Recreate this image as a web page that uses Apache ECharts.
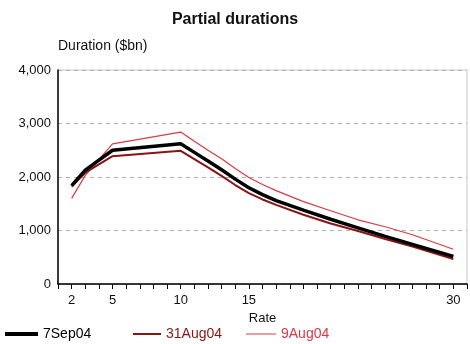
<!DOCTYPE html>
<html>
<head>
<meta charset="utf-8">
<script src="https://cdn.jsdelivr.net/npm/echarts@6/dist/echarts.min.js"></script>
<style>
html,body{margin:0;padding:0;background:#fff;}
#chart{width:470px;height:344px;}
</style>
</head>
<body>
<div id="chart"></div>
<script>
var rates = [2, 3, 5, 10, 11, 12, 13, 14, 15, 16, 17, 19, 21, 23, 25, 27, 30];
var sep7 = [1840, 2130, 2500, 2620, 2460, 2300, 2135, 1960, 1800, 1670, 1560, 1380, 1210, 1050, 890, 740, 515];
var aug31 = [1820, 2080, 2390, 2490, 2335, 2180, 2020, 1850, 1700, 1580, 1480, 1295, 1130, 990, 840, 700, 465];
var aug9 = [1600, 2030, 2620, 2840, 2670, 2500, 2340, 2160, 1990, 1860, 1745, 1540, 1370, 1200, 1070, 920, 650];
var xLabels = [2, 5, 10, 15, 30];
var yTicks = [0, 1000, 2000, 3000, 4000];

function pairs(xs, ys) { return xs.map(function (x, i) { return [x, ys[i]]; }); }
var font = 'Liberation Sans, Arial, sans-serif';
var cBlack = '#000000', cDark = '#8a1414', cLight = '#d83a44';

var chart = echarts.init(document.getElementById('chart'));
chart.setOption({
  animation: false,
  backgroundColor: '#fff',
  title: {
    text: 'Partial durations', left: 'center', top: 7,
    textStyle: { fontFamily: font, fontSize: 16, fontWeight: 'bold', color: '#111' }
  },
  grid: { left: 58, right: 3, top: 70, bottom: 60, show: true, borderColor: '#c8c8c8', borderWidth: 1 },
  xAxis: {
    type: 'value', min: 1, max: 31, interval: 1,
    name: 'Rate', nameLocation: 'middle', nameGap: 26,
    nameTextStyle: { fontFamily: font, fontSize: 13, color: '#111' },
    axisLine: { lineStyle: { color: '#000', width: 1.5 } },
    axisTick: { show: true, length: 5, lineStyle: { color: '#000' } },
    axisLabel: {
      fontFamily: font, fontSize: 13, color: '#111', margin: 10,
      formatter: function (v) { return xLabels.indexOf(v) >= 0 ? String(v) : ''; }
    },
    splitLine: { show: false }
  },
  yAxis: {
    type: 'value', min: yTicks[0], max: yTicks[yTicks.length - 1], interval: 1000,
    name: 'Duration ($bn)', nameLocation: 'end', nameGap: 17,
    nameTextStyle: { fontFamily: font, fontSize: 14, color: '#111', align: 'left' },
    axisLine: { show: true, lineStyle: { color: '#000', width: 1.5 } },
    axisTick: { show: false },
    axisLabel: {
      fontFamily: font, fontSize: 13, color: '#111', margin: 7,
      formatter: function (v) { return v.toLocaleString('en-US'); }
    },
    splitLine: { show: true, lineStyle: { color: '#b0b0b0', type: [4, 4], width: 1 } }
  },
  legend: [
    { data: [{ name: '7Sep04', icon: 'rect', textStyle: { color: '#000' } }], left: 5, bottom: 3, padding: 0,
      itemWidth: 33, itemHeight: 4, textStyle: { fontFamily: font, fontSize: 14 } },
    { data: [{ name: '31Aug04', icon: 'rect', textStyle: { color: cDark } }], left: 133, bottom: 3, padding: 0,
      itemWidth: 28, itemHeight: 2, textStyle: { fontFamily: font, fontSize: 14 } },
    { data: [{ name: '9Aug04', icon: 'rect', textStyle: { color: cLight } }], left: 246, bottom: 3, padding: 0,
      itemWidth: 30, itemHeight: 1, textStyle: { fontFamily: font, fontSize: 14 } }
  ],
  series: [
    { name: '9Aug04', type: 'line', data: pairs(rates, aug9), symbol: 'none', z: 2,
      lineStyle: { color: cLight, width: 1.2 }, itemStyle: { color: cLight } },
    { name: '31Aug04', type: 'line', data: pairs(rates, aug31), symbol: 'none', z: 3,
      lineStyle: { color: cDark, width: 2 }, itemStyle: { color: cDark } },
    { name: '7Sep04', type: 'line', data: pairs(rates, sep7), symbol: 'none', z: 4,
      lineStyle: { color: cBlack, width: 3.5 }, itemStyle: { color: cBlack } }
  ]
});
</script>
</body>
</html>
